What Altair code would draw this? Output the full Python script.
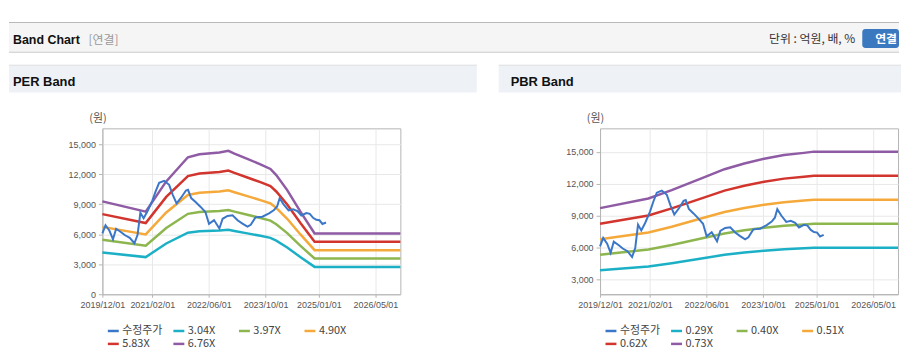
import altair as alt
import pandas as pd

# ---------------- data ----------------
price_dates = ["2019-12-01", "2019-12-28", "2020-01-31", "2020-03-01", "2020-03-28", "2020-05-10",
               "2020-06-13", "2020-07-23", "2020-09-01", "2020-09-28", "2020-10-22", "2020-11-19",
               "2020-12-22", "2021-02-01", "2021-03-02", "2021-04-01", "2021-05-14", "2021-06-26",
               "2021-07-27", "2021-08-29", "2021-10-08", "2021-11-17", "2021-12-05", "2022-01-01",
               "2022-02-10", "2022-03-21", "2022-05-03", "2022-06-03", "2022-07-16", "2022-08-31",
               "2022-09-28", "2022-11-09", "2022-12-22", "2023-02-03", "2023-03-17", "2023-04-29",
               "2023-05-27", "2023-07-08", "2023-09-04", "2023-10-31", "2023-12-13", "2024-01-09",
               "2024-01-30", "2024-03-04", "2024-04-16", "2024-05-25", "2024-07-01", "2024-08-03",
               "2024-09-15", "2024-10-15", "2024-11-12", "2024-12-10", "2025-01-06", "2025-01-31",
               "2025-03-03"]
price_values = [6100, 6900, 6350, 5500, 6550, 6200,
                5900, 5650, 5100, 5950, 8150, 7600,
                8300, 9350, 10300, 11150, 11350, 10950,
                9950, 9100, 9680, 10380, 10450, 9620,
                9200, 8760, 8230, 7050, 7420, 6580,
                7550, 7830, 7900, 7400, 7060, 6760,
                6950, 7700, 7760, 8100, 8430, 8800,
                9600, 9000, 8400, 8500, 8320, 7880,
                8120, 8050, 7650, 7450, 7400, 7030,
                7180]

per_dates = ["2019-12-01", "2020-12-07", "2021-06-01", "2021-12-04", "2022-03-13", "2022-09-01",
             "2022-11-16", "2023-01-07", "2023-04-28", "2023-08-18", "2023-11-12", "2024-01-01",
             "2024-04-04", "2024-07-25", "2024-11-25", "2026-12-01"]
per_304 = [4180, 3715, 5077, 6162, 6302, 6381, 6451, 6329, 6089, 5846, 5639, 5363, 4685, 3727, 2736, 2736]
per_397 = [5459, 4851, 6630, 8047, 8230, 8333, 8424, 8266, 7952, 7634, 7364, 7003, 6118, 4867, 3573, 3573]
per_490 = [6738, 5988, 8183, 9932, 10158, 10285, 10398, 10202, 9815, 9423, 9090, 8644, 7551, 6007, 4410, 4410]
per_583 = [8016, 7124, 9736, 11817, 12086, 12237, 12371, 12138, 11677, 11211, 10815, 10284, 8984, 7148, 5247, 5247]
per_676 = [9295, 8261, 11289, 13703, 14013, 14189, 14345, 14074, 13540, 12999, 12540, 11925, 10417, 8288, 6084, 6084]

pbr_dates = ["2019-12-01", "2021-01-19", "2021-08-07", "2022-05-16", "2022-11-03", "2023-04-22",
             "2023-10-09", "2024-03-28", "2024-09-15", "2024-12-09", "2026-12-01"]
pbr_029 = [3852, 4212, 4522, 5012, 5306, 5520, 5696, 5834, 5916, 5962, 5962]
pbr_040 = [5313, 5810, 6237, 6913, 7318, 7614, 7856, 8046, 8160, 8224, 8224]
pbr_051 = [6774, 7407, 7952, 8814, 9331, 9707, 10017, 10259, 10404, 10486, 10486]
pbr_062 = [8235, 9005, 9668, 10715, 11344, 11801, 12177, 12472, 12648, 12747, 12747]
pbr_073 = [9697, 10603, 11383, 12616, 13356, 13895, 14338, 14685, 14892, 15009, 15009]

PRICE_LABEL = "수정주가"
per_labels = ["3.04X", "3.97X", "4.90X", "5.83X", "6.76X"]
pbr_labels = ["0.29X", "0.40X", "0.51X", "0.62X", "0.73X"]
x_ticks = [(2019, 12), (2021, 2), (2022, 6), (2023, 10), (2025, 1), (2026, 5)]
per_y_ticks = [0, 3000, 6000, 9000, 12000, 15000]
pbr_y_ticks = [3000, 6000, 9000, 12000, 15000]

COLORS = ["#3b77c8", "#1cb0c6", "#8db64f", "#f5a93a", "#d2352d", "#8f5ba4"]

LATIN = "Liberation Sans, Noto Sans CJK KR"
KR = "Noto Sans CJK KR"


def band_frame(dates, series, labels):
    rows = []
    for lab, vals in zip(labels, series):
        for d, v in zip(dates, vals):
            rows.append({"date": d, "value": v, "series": lab})
    return pd.DataFrame(rows)


price_df = pd.DataFrame({"date": price_dates, "value": price_values, "series": PRICE_LABEL})
per_df = band_frame(per_dates, [per_304, per_397, per_490, per_583, per_676], per_labels)
pbr_df = band_frame(pbr_dates, [pbr_029, pbr_040, pbr_051, pbr_062, pbr_073], pbr_labels)

one = alt.Data(values=[{"k": 1}])


def panel(title, bands_df, labels, ydomain, yticks, x0, x1):
    domain_labels = [PRICE_LABEL] + labels
    xscale = alt.Scale(type="utc", domain=[alt.DateTime(year=2019, month=12, date=1, utc=True),
                                           alt.DateTime(year=2026, month=12, date=1, utc=True)])
    xaxis = alt.Axis(values=[alt.DateTime(year=y, month=m, date=1, utc=True) for y, m in x_ticks],
                     labelExpr="utcFormat(datum.value, '%Y/%m/%d')", title=None, grid=True,
                     labelFont=LATIN, labelFontSize=9, labelColor="#555555",
                     tickSize=3, labelPadding=3, labelOverlap=False, labelFlush=False)
    yscale = alt.Scale(domain=ydomain, nice=False, zero=False)
    yaxis = alt.Axis(values=yticks, format=",d", title="(원)", titleAngle=0, titleX=-5, titleY=-10,
                     titleAlign="center", titleBaseline="middle", titleFont=KR, titleFontSize=11,
                     titleFontWeight="normal", titleColor="#555555",
                     labelFont=LATIN, labelFontSize=9, labelColor="#555555",
                     tickSize=4, labelPadding=3, grid=True)
    color = alt.Color("series:N", sort=domain_labels,
                      scale=alt.Scale(domain=domain_labels, range=COLORS),
                      legend=alt.Legend(title=None, orient="none", direction="horizontal",
                                        legendX=4, legendY=197, columns=4,
                                        symbolType="stroke", symbolSize=121, symbolStrokeWidth=2.5,
                                        labelFont=KR, labelFontSize=11, labelColor="#444444",
                                        gridAlign="all", columnPadding=5, rowPadding=1,
                                        labelOffset=2, padding=0))

    bands = alt.Chart(bands_df).mark_line(strokeWidth=2.5).encode(
        x=alt.X("date:T", scale=xscale, axis=xaxis),
        y=alt.Y("value:Q", scale=yscale, axis=yaxis),
        color=color,
    )
    price = alt.Chart(price_df).mark_line(strokeWidth=2).encode(
        x=alt.X("date:T", scale=xscale, axis=xaxis),
        y=alt.Y("value:Q", scale=yscale, axis=yaxis),
        color=color,
    )
    deco = alt.Chart(one)
    bar_line = deco.mark_rect(color="#d6d6d6").encode(
        x=alt.value(x0), x2=alt.value(x1), y=alt.value(-64), y2=alt.value(-63))
    bar = deco.mark_rect(color="#eef2f7").encode(
        x=alt.value(x0), x2=alt.value(x1), y=alt.value(-63), y2=alt.value(-36))
    ttl = deco.mark_text(align="left", baseline="alphabetic", font=LATIN, fontSize=13,
                         fontWeight="bold", color="#111111").encode(
        x=alt.value(-90), y=alt.value(-43), text=alt.value(title))
    return alt.layer(bar_line, bar, ttl, bands, price).properties(width=300, height=167)


per = panel("PER Band", per_df, per_labels, [0, 16600], per_y_ticks, -94, 377)
pbr = panel("PBR Band", pbr_df, pbr_labels, [1600, 17200], pbr_y_ticks, -102, 303)

# header is laid out relative to the left panel's plot origin (94 px to its right)
H0 = -94
hdr = alt.Chart(one)
header = alt.layer(
    hdr.mark_rect(color="#f5f5f5").encode(x=alt.value(H0), x2=alt.value(H0 + 896), y=alt.value(12), y2=alt.value(43)),
    hdr.mark_rect(color="#b9b9b9").encode(x=alt.value(H0), x2=alt.value(H0 + 896), y=alt.value(12), y2=alt.value(13)),
    hdr.mark_rect(color="#cccccc").encode(x=alt.value(H0), x2=alt.value(H0 + 896), y=alt.value(42), y2=alt.value(43)),
    hdr.mark_text(align="left", baseline="alphabetic", font=LATIN, fontSize=12.5, fontWeight="bold",
                  color="#111111").encode(x=alt.value(H0 + 4), y=alt.value(34), text=alt.value("Band Chart")),
    hdr.mark_text(align="left", baseline="alphabetic", font=KR, fontSize=12,
                  color="#999999").encode(x=alt.value(H0 + 80), y=alt.value(34), text=alt.value("[연결]")),
    hdr.mark_text(align="right", baseline="alphabetic", font=KR, fontSize=12,
                  color="#333333").encode(x=alt.value(H0 + 852), y=alt.value(33.5), text=alt.value("단위 : 억원, 배, %")),
    hdr.mark_rect(color="#3a78bf", cornerRadius=3).encode(
        x=alt.value(H0 + 859), x2=alt.value(H0 + 896), y=alt.value(19), y2=alt.value(38)),
    hdr.mark_text(align="center", baseline="alphabetic", font=KR, fontSize=12, fontWeight="bold",
                  color="#ffffff").encode(x=alt.value(H0 + 883), y=alt.value(33.5), text=alt.value("연결")),
).properties(width=896 + H0, height=53, view=alt.ViewBackground(stroke="transparent"))

body = alt.hconcat(per, pbr, spacing=20).resolve_scale(color="independent")

chart = alt.vconcat(header, body, spacing=0).resolve_scale(color="independent").properties(
    padding=0
).configure_view(stroke="#b4b4b4").configure_axis(
    domainColor="#b4b4b4", tickColor="#b4b4b4", gridColor="#e8e8e8"
)

chart.save("out.html", embed_options={"renderer": "svg", "actions": False})
